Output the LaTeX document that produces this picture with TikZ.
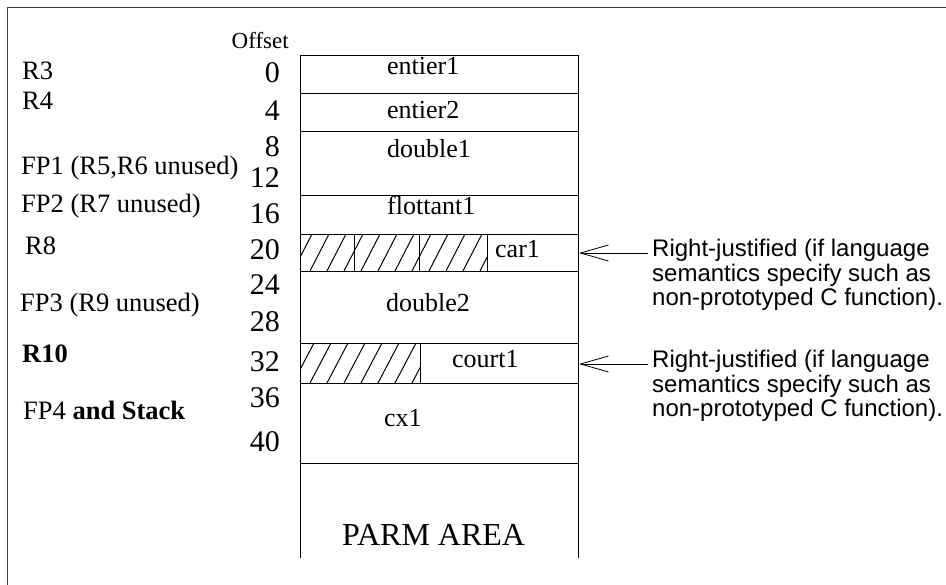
\documentclass[tikz,border=0pt]{standalone}
\usepackage{fontspec}
\setmainfont{Liberation Serif}
\newfontfamily\notefont{Liberation Sans}
\usetikzlibrary{arrows.meta}

\begin{document}
\begin{tikzpicture}[x=1pt,y=-1pt]

        % Styles
        \tikzset{
          offs/.style={anchor=base east,inner sep=0pt,
                       font=\fontsize{30}{30}\selectfont},
          reg/.style={anchor=base west,inner sep=0pt,
                      font=\fontsize{26.5}{26.5}\selectfont},
          cell/.style={anchor=base west,inner sep=0pt,
                       font=\fontsize{26}{26}\selectfont},
          note/.style={anchor=base west,inner sep=0pt,align=left,
                       font=\notefont\fontsize{24}{24.5}\selectfont},
          rule/.style={line width=0.9pt},
          hatch/.style={line width=1pt},
          pointer/.style={line width=0.8pt,
                          {Straight Barb[length=28pt,width=16pt]}-}
        }

        \useasboundingbox (0,0) rectangle (946,585);

        % Outer frame (top and left edge)
        \draw[line width=1.6pt,black!75] (7.5,585) -- (7.5,7.5) -- (946,7.5);

        % x of the column sides
        \def\xl{300}
        \def\xr{578}

        %-------------------------------
        % Parameter column
        %-------------------------------
        \draw[rule] (\xl,558) -- (\xl,55) -- (\xr,55) -- (\xr,558);
        \foreach \y in {93,131,195,234,271,343,383,463}
            \draw[rule] (\xl,\y) -- (\xr,\y);

        % Padding bytes (hatched)
        \begin{scope}
          \clip (\xl,234) rectangle (487,271);
          \foreach \x in {276,293,...,500}
              \draw[hatch] (\x,271) -- (\x+19,234);
        \end{scope}
        \begin{scope}
          \clip (\xl,343) rectangle (420,383);
          \foreach \x in {276,293,...,440}
              \draw[hatch] (\x,383) -- (\x+21,343);
        \end{scope}
        \draw[rule] (354,234) -- (354,271);
        \draw[rule] (419,234) -- (419,271);
        \draw[rule] (487,234) -- (487,271);
        \draw[rule] (420,343) -- (420,383);

        % Cell contents
        \node[cell] (entier1)   at (387,75)  {entier1};
        \node[cell] (entier2)   at (387,119) {entier2};
        \node[cell] (double1)   at (387,158) {double1};
        \node[cell] (flottant1) at (387,215) {flottant1};
        \node[cell] (car1)      at (495,258) {car1};
        \node[cell] (double2)   at (386,312) {double2};
        \node[cell] (court1)    at (452,368) {court1};
        \node[cell] (cx1)       at (384,427) {cx1};
        \node[cell,font=\fontsize{32}{32}\selectfont] (parm) at (342,545)
            {PARM AREA};

        %-------------------------------
        % Offsets
        %-------------------------------
        \node[offs,font=\fontsize{23}{23}\selectfont] (offset) at (289,49)
            {Offset};
        \foreach \v/\y in {0/83,4/121,8/157,12/188,16/224,20/260,
                           24/295,28/332,32/372,36/408,40/452}
            \node[offs] (off\v) at (280,\y) {\v};

        %-------------------------------
        % Registers on the left
        %-------------------------------
        \node[reg] (r3)  at (22,80)  {R3};
        \node[reg] (r4)  at (22,110) {R4};
        \node[reg] (fp1) at (21,175) {FP1 (R5,R6 unused)};
        \node[reg] (fp2) at (21,213) {FP2 (R7 unused)};
        \node[reg] (r8)  at (25,255) {R8};
        \node[reg] (fp3) at (20,312) {FP3 (R9 unused)};
        \node[reg] (r10) at (22,363) {\bfseries R10};
        \node[reg] (fp4) at (23,420) {FP4 \textbf{and Stack}};

        %-------------------------------
        % Notes for right-justified values (base = last line)
        %-------------------------------
        \node[note] (carnote) at (652,306)
            {Right-justified (if language\\semantics specify such as\\
             non-prototyped C function).};
        \node[note] (courtnote) at (652,417)
            {Right-justified (if language\\semantics specify such as\\
             non-prototyped C function).};

        \coordinate (cartip)   at (579,253);
        \coordinate (cartail)  at (648,253);
        \coordinate (courttip) at (579,364);
        \coordinate (courttail) at (648,364);
        \draw[pointer] (cartip) -- (cartail);
        \draw[pointer] (courttip) -- (courttail);

    \end{tikzpicture}
\end{document}
